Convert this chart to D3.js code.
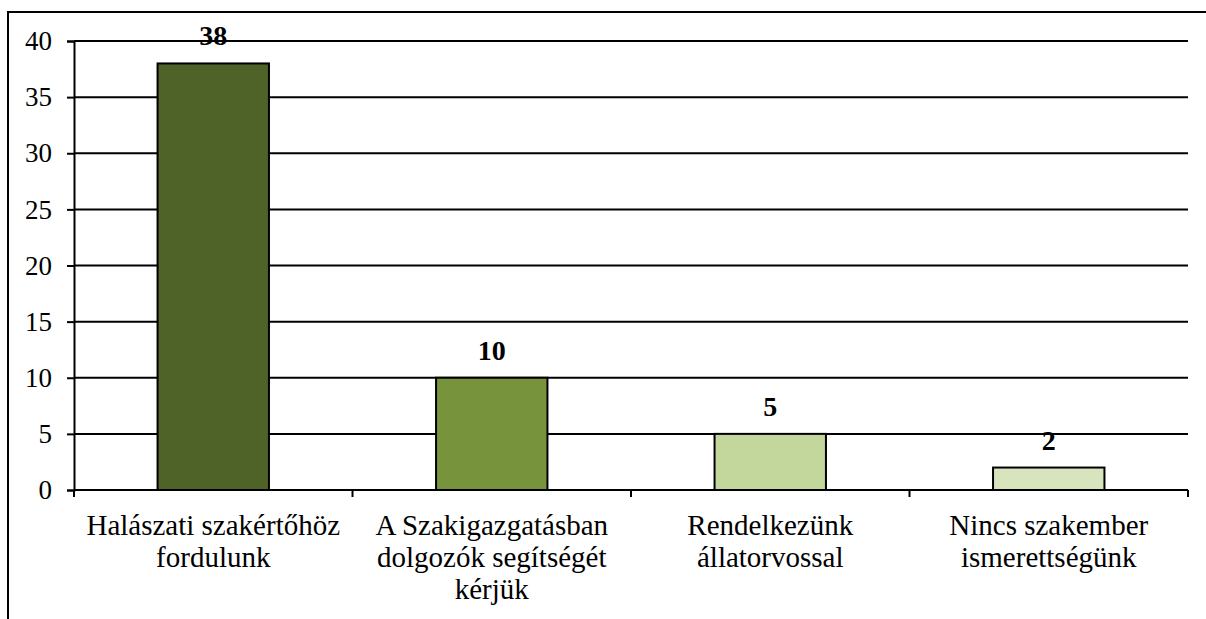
<!DOCTYPE html>
<html lang="hu">
<head>
<meta charset="UTF-8">
<title>Bar chart</title>
<script src="https://d3js.org/d3.v7.min.js"></script>
<style>
  body { margin: 0; background: #fff; }
  svg { display: block; }
  svg text { font-family: "Liberation Serif", serif; fill: #000; }
</style>
</head>
<body>
<div id="chart"></div>
<script>
  const categories = [
    ["Halászati szakértőhöz", "fordulunk"],
    ["A Szakigazgatásban", "dolgozók segítségét", "kérjük"],
    ["Rendelkezünk", "állatorvossal"],
    ["Nincs szakember", "ismerettségünk"]
  ];
  const values = [38, 10, 5, 2];
  const colors = ["#4f6228", "#77933c", "#c3d69b", "#d7e4bd"];
  const yTicks = [0, 5, 10, 15, 20, 25, 30, 35, 40];

  const width = 1206, height = 619;
  const margin = {left: 74, right: 18, top: 41, bottom: 129};
  const serif = "'Liberation Serif', serif";

  const svg = d3.select("#chart").append("svg")
    .attr("width", width)
    .attr("height", height);

  // outer frame (runs off the right and bottom edges)
  svg.append("rect")
    .attr("x", 8).attr("y", 12)
    .attr("width", width + 20).attr("height", height + 20)
    .attr("fill", "none")
    .attr("stroke", "#000")
    .attr("stroke-width", 2);

  const x = d3.scaleBand()
    .domain(d3.range(values.length))
    .range([margin.left, width - margin.right])
    .paddingInner(0.6)
    .paddingOuter(0.3);

  const y = d3.scaleLinear()
    .domain([0, 40])
    .range([height - margin.bottom, margin.top]);

  // gridlines
  svg.append("g")
    .selectAll("line")
    .data(yTicks.filter(d => d > 0))
    .join("line")
    .attr("x1", margin.left).attr("x2", width - margin.right)
    .attr("y1", d => y(d)).attr("y2", d => y(d))
    .attr("stroke", "#000")
    .attr("stroke-width", 2);

  // y axis
  const yAxis = svg.append("g")
    .attr("transform", `translate(${margin.left},0)`)
    .call(d3.axisLeft(y).tickValues(yTicks).tickSize(7).tickPadding(15));
  yAxis.attr("font-family", null).attr("font-size", null);
  yAxis.select(".domain").attr("stroke", "#000").attr("stroke-width", 2);
  yAxis.selectAll(".tick line").attr("stroke", "#000").attr("stroke-width", 2);
  yAxis.selectAll(".tick text")
    .style("font-family", serif)
    .style("font-size", "27px")
    .attr("fill", "#000");

  // bars
  svg.append("g")
    .selectAll("rect")
    .data(values)
    .join("rect")
    .attr("x", (d, i) => x(i))
    .attr("y", d => y(d))
    .attr("width", x.bandwidth())
    .attr("height", d => y(0) - y(d))
    .attr("fill", (d, i) => colors[i])
    .attr("stroke", "#000")
    .attr("stroke-width", 2);

  // value labels
  svg.append("g")
    .selectAll("text")
    .data(values)
    .join("text")
    .style("font-family", serif)
    .style("font-size", "28px")
    .style("font-weight", "bold")
    .attr("x", (d, i) => x(i) + x.bandwidth() / 2)
    .attr("y", d => y(d) - 18)
    .attr("text-anchor", "middle")
    .text(d => d);

  // x axis line and category ticks
  const step = (width - margin.right - margin.left) / values.length;
  svg.append("line")
    .attr("x1", margin.left).attr("x2", width - margin.right)
    .attr("y1", y(0)).attr("y2", y(0))
    .attr("stroke", "#000").attr("stroke-width", 2);
  svg.append("g")
    .selectAll("line")
    .data(d3.range(values.length + 1))
    .join("line")
    .attr("x1", i => margin.left + i * step)
    .attr("x2", i => margin.left + i * step)
    .attr("y1", y(0)).attr("y2", y(0) + 7)
    .attr("stroke", "#000").attr("stroke-width", 2);

  // category labels
  const cat = svg.append("g")
    .selectAll("text")
    .data(categories)
    .join("text")
    .style("font-family", serif)
    .style("font-size", "29px")
    .attr("text-anchor", "middle")
    .attr("x", (d, i) => x(i) + x.bandwidth() / 2)
    .attr("y", y(0) + 45);
  cat.selectAll("tspan")
    .data(d => d)
    .join("tspan")
    .attr("x", function() { return this.parentNode.getAttribute("x"); })
    .attr("dy", (d, j) => j === 0 ? 0 : 32)
    .text(d => d);
</script>
</body>
</html>
